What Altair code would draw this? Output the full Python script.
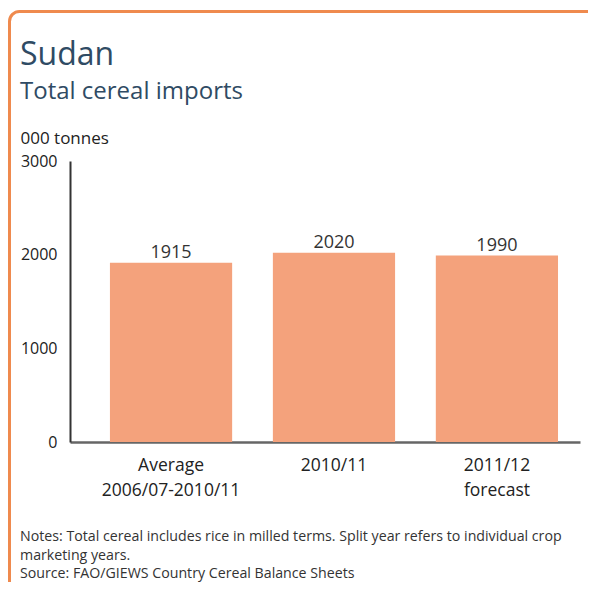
import altair as alt
import pandas as pd

categories = ["Average\n2006/07-2010/11", "2010/11", "2011/12\nforecast"]
values = [1915, 2020, 1990]
y_ticks = [0, 1000, 2000, 3000]
title_text = "Sudan"
subtitle_text = "Total cereal imports"
y_unit = "000 tonnes"
notes_lines = [
    "Notes: Total cereal includes rice in milled terms. Split year refers to individual crop",
    "marketing years.",
    "Source: FAO/GIEWS Country Cereal Balance Sheets",
]

FONT = "Open Sans"
W, H = 510, 281

df = pd.DataFrame({"cat": categories, "val": values})

xenc = alt.X(
    "cat:N",
    sort=None,
    title=None,
    scale=alt.Scale(paddingInner=0.25, paddingOuter=0.19, align=0.645),
    axis=alt.Axis(
        labelAngle=0,
        labelExpr="split(datum.label, '\\n')",
        labelFont=FONT,
        labelFontSize=17.5,
        labelColor="#222222",
        labelLineHeight=25,
        labelPadding=23,
        labelBaseline="middle",
        ticks=False,
        domainColor="#666666",
        domainWidth=2.5,
    ),
)
yenc = alt.Y(
    "val:Q",
    scale=alt.Scale(domain=[0, 3000], nice=False),
    axis=alt.Axis(
        values=y_ticks,
        format="d",
        grid=False,
        ticks=False,
        labelFont=FONT,
        labelFontSize=16,
        labelColor="#222222",
        labelPadding=13,
        domainColor="#333333",
        domainWidth=2,
        title=y_unit,
        titleAngle=0,
        titleAlign="left",
        titleBaseline="middle",
        titleX=-50,
        titleY=-23,
        titleFont=FONT,
        titleFontSize=17,
        titleFontWeight="normal",
        titleColor="#222222",
    ),
)

bars = alt.Chart(df).mark_bar(color="#F4A27C").encode(x=xenc, y=yenc)
labels = alt.Chart(df).mark_text(
    baseline="alphabetic", dy=-5, font=FONT, fontSize=18, color="#333333"
).encode(x=alt.X("cat:N", sort=None), y="val:Q", text="val:Q")

one = pd.DataFrame({"a": [0]})
border = alt.Chart(one).mark_rect(
    fill="transparent", stroke="#EF8A4E", strokeWidth=3, cornerRadiusTopLeft=10
).encode(x=alt.value(-60.5), x2=alt.value(1200), y=alt.value(-149.5), y2=alt.value(1200))

title = alt.Chart(pd.DataFrame({"t": [title_text]})).mark_text(
    align="left", baseline="alphabetic", font=FONT, fontSize=32, color="#2F4B64"
).encode(text="t:N", x=alt.value(-50), y=alt.value(-96))

subtitle = alt.Chart(pd.DataFrame({"t": [subtitle_text]})).mark_text(
    align="left", baseline="alphabetic", font=FONT, fontSize=24, color="#2F4B64"
).encode(text="t:N", x=alt.value(-50), y=alt.value(-62))

notes_df = pd.DataFrame({"t": notes_lines, "i": [0, 1, 2]})
notes = alt.Chart(notes_df).transform_calculate(
    py="376 + datum.i * 18.5"
).mark_text(
    align="left", baseline="middle", font=FONT, fontSize=14.2, color="#333333"
).encode(text="t:N", x=alt.value(-50), y=alt.Y("py:Q", scale=None))

chart = alt.layer(border, bars, labels, title, subtitle, notes).properties(
    width=W,
    height=H,
    padding={"left": 62, "top": 153, "right": 8, "bottom": 140},
    autosize=alt.AutoSizeParams(type="none"),
    background="white",
).configure_view(stroke=None)

chart.save("out.html", embed_options={"renderer": "svg", "actions": False})
